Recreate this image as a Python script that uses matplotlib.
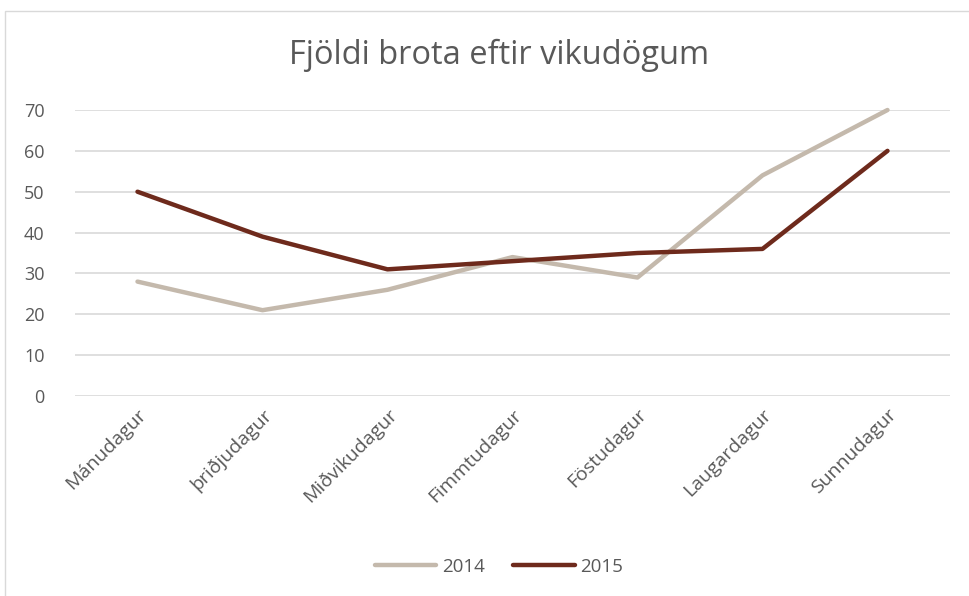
import matplotlib
matplotlib.use("Agg")
import matplotlib.pyplot as plt
from matplotlib.patches import Rectangle

categories = ["Mánudagur", "þriðjudagur", "Miðvikudagur", "Fimmtudagur",
              "Föstudagur", "Laugardagur", "Sunnudagur"]
s2014 = [28, 21, 26, 34, 29, 54, 70]
s2015 = [50, 39, 31, 33, 35, 36, 60]
yticks = [0, 10, 20, 30, 40, 50, 60, 70]

plt.rcParams['font.family'] = ['Open Sans', 'DejaVu Sans']
txt = '#595959'

fig = plt.figure(figsize=(9.69, 5.96), dpi=100)
fig.patches.append(Rectangle((5/969, -0.01), 1.0, 1 - 11/596 + 0.01, transform=fig.transFigure,
                             fill=False, edgecolor='#d9d9d9', linewidth=1.0))
ax = fig.add_axes([75/969, 1 - 396/596, 875/969, 286/596])
x = list(range(len(categories)))
ax.plot(x, s2014, color='#c4b9ac', linewidth=3.2, label='2014', solid_capstyle='round', clip_on=False)
ax.plot(x, s2015, color='#6e2a1c', linewidth=3.2, label='2015', solid_capstyle='round', clip_on=False)
ax.set_xlim(-0.5, 6.5)
ax.set_ylim(0, 70)
ax.set_yticks(yticks)
ax.set_yticklabels([str(v) for v in yticks], fontsize=13, color=txt)
ax.set_xticks(x)
ax.set_xticklabels(categories, rotation=45, ha='right', rotation_mode='anchor',
                   fontsize=14, color=txt)
ax.tick_params(axis='both', length=0)
ax.tick_params(axis='y', pad=22)
ax.tick_params(axis='x', pad=7)
ax.grid(axis='y', color='#d9d9d9', linewidth=1.2)
ax.set_axisbelow(True)
for sp in ax.spines.values():
    sp.set_visible(False)

fig.text(0.515, 1 - 55/596, "Fjöldi brota eftir vikudögum", ha='center', va='center',
         fontsize=23.5, color=txt)
leg = fig.legend(loc='center', bbox_to_anchor=(0.515, 1 - 567/596), ncol=2, frameon=False,
                 fontsize=13.5, handlelength=3.3, columnspacing=1.5, handletextpad=0.3)
for t in leg.get_texts():
    t.set_color(txt)
fig.savefig("out.png", dpi=100)
